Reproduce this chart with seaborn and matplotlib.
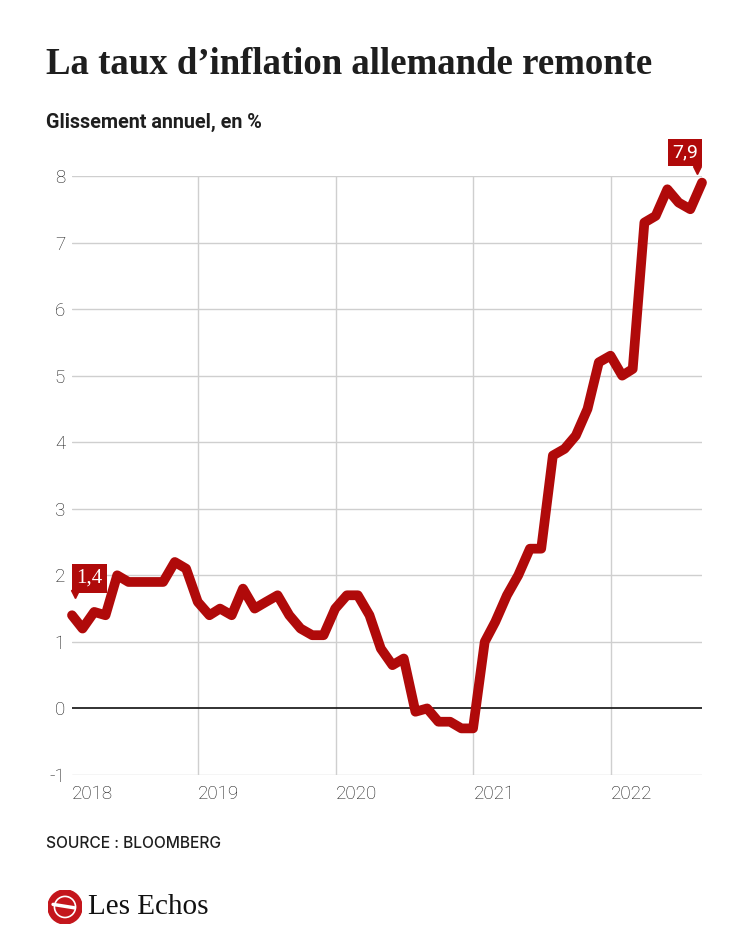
import pandas as pd
import numpy as np
import matplotlib
matplotlib.use('Agg')
import matplotlib.pyplot as plt
import matplotlib.transforms as mtransforms
from matplotlib.patches import Circle
import seaborn as sns

# Données : inflation allemande, glissement annuel (%)
infl_2018 = [1.4, 1.2, 1.45, 1.4, 2.0, 1.9, 1.9, 1.9, 1.9, 2.2, 2.1, 1.6]
infl_2019 = [1.4, 1.5, 1.4, 1.8, 1.5, 1.6, 1.7, 1.4, 1.2, 1.1, 1.1, 1.5]
infl_2020 = [1.7, 1.7, 1.4, 0.9, 0.65, 0.75, -0.05, 0.0, -0.2, -0.2, -0.3, -0.3]
infl_2021 = [1.0, 1.3, 1.7, 2.0, 2.4, 2.4, 3.8, 3.9, 4.1, 4.5, 5.2, 5.3]
infl_2022 = [5.0, 5.1, 7.3, 7.4, 7.8, 7.6, 7.5, 7.9]

years = [2018, 2019, 2020, 2021, 2022]
y_ticks = [-1, 0, 1, 2, 3, 4, 5, 6, 7, 8]

RED = '#b00a0a'
GRID = '#cfcfcf'
TXT = '#1e1e1e'

values = infl_2018 + infl_2019 + infl_2020 + infl_2021 + infl_2022
dates = pd.date_range('2018-01-31', periods=len(values), freq='ME')
df = pd.DataFrame({'date': dates, 'inflation': values})

sns.set_style('white')
plt.rcParams['font.family'] = ['Roboto', 'DejaVu Sans']

fig = plt.figure(figsize=(7.5, 9.38), dpi=100)
ax = fig.add_axes([0.096, 0.1738, 0.84, 0.6386])

# grilles
for yv in y_ticks:
    if yv == 0:
        continue
    ax.axhline(yv, color=GRID, lw=1.0, zorder=1)
for yr in years[1:]:
    ax.axvline(pd.Timestamp(f'{yr}-01-01'), color=GRID, lw=1.0, zorder=1)
ax.axhline(0, color='#222222', lw=1.3, zorder=2)

sns.lineplot(data=df, x='date', y='inflation', color=RED, lw=7, ax=ax,
             zorder=3, solid_joinstyle='round', solid_capstyle='round',
             clip_on=False)

ax.set_xlim(dates[0], dates[-1])
ax.set_ylim(-1, 8)
ax.set_xlabel('')
ax.set_ylabel('')
for s in ax.spines.values():
    s.set_visible(False)

ax.set_yticks(y_ticks)
ax.set_yticklabels([str(v) for v in y_ticks], fontsize=13.5, color='#1a1a1a',
                   fontweight='light')
ax.tick_params(axis='y', length=0, pad=5)

xt = [dates[0]] + [pd.Timestamp(f'{yr}-01-01') for yr in years[1:]]
ax.set_xticks(xt)
ax.set_xticklabels([str(y) for y in years], fontsize=13.5, color='#1a1a1a',
                   fontweight='light', ha='left')
ax.tick_params(axis='x', length=6, width=1.0, color=GRID, pad=1)
ax.xaxis.get_major_ticks()[0].tick1line.set_visible(False)

# étiquettes de début et de fin
def label(idx, txt, dx, dy, tdx, tdy, family, size):
    x, y = df['date'][idx], df['inflation'][idx]
    ax.annotate(txt, (x, y), xytext=(dx, dy), textcoords='offset points',
                ha='center', va='center', color='white', fontsize=size,
                family=family, zorder=6, annotation_clip=False,
                bbox=dict(boxstyle='square,pad=0.22', fc=RED, ec='none'))
    tr = mtransforms.offset_copy(ax.transData, fig=fig, x=tdx, y=tdy,
                                 units='points')
    ax.plot([x], [y], marker='v', ms=6, color=RED, transform=tr,
            clip_on=False, zorder=6)

label(0, '1,4', 12.6, 26.5, 2.4, 15.5, ['Liberation Serif', 'DejaVu Serif'], 15)
label(len(values) - 1, '7,9', -12.2, 21.8, -3.8, 9.0, ['Roboto', 'DejaVu Sans'], 14)

# titres
fig.text(0.062, 0.931, 'La taux d\u2019inflation allemande remonte',
         fontsize=26.5, fontweight='bold', color=TXT, va='center',
         family=['Liberation Serif', 'DejaVu Serif'])
fig.text(0.062, 0.869, 'Glissement annuel, en %', fontsize=14.2,
         fontweight='bold', color=TXT, va='center')
fig.text(0.062, 0.101, 'SOURCE : BLOOMBERG', fontsize=11.2, fontweight='medium',
         color=TXT, va='center', family=['Inter', 'DejaVu Sans'])

# logo
logo_ax = fig.add_axes([65 / 750 - 0.0227, 1 - 907 / 938 - 0.0181, 0.0454, 0.0363])
logo_ax.set_xlim(-1, 1)
logo_ax.set_ylim(-1, 1)
logo_ax.set_aspect('equal')
logo_ax.axis('off')
logo_ax.add_patch(Circle((0, 0), 1, color='#c4161c'))
logo_ax.add_patch(Circle((0, 0), 0.62, fill=False, ec='white', lw=1.2))
logo_ax.plot([-0.7, 0.55], [0.15, -0.05], color='white', lw=2.5,
             solid_capstyle='round')
fig.text(0.118, 1 - 907 / 938, 'Les Echos', fontsize=21, color='#111111',
         va='center', family=['Liberation Serif', 'DejaVu Serif'])

plt.savefig('out.png', dpi=100, facecolor='white')
plt.close()
